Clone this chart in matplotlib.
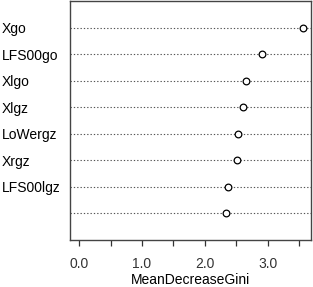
import matplotlib
matplotlib.use("Agg")
import matplotlib.pyplot as plt

plt.rcParams['font.family'] = ['Liberation Sans', 'DejaVu Sans']

labels = ["Xgo", "LFS00go", "Xlgo", "Xlgz", "LoWergz", "Xrgz", "LFS00lgz", ""]
values = [3.56, 2.91, 2.65, 2.60, 2.53, 2.51, 2.37, 2.33]
xticks = [0.0, 0.5, 1.0, 1.5, 2.0, 2.5, 3.0, 3.5]
xticklabels = ["0.0", "", "1.0", "", "2.0", "", "3.0", ""]

fig = plt.figure(figsize=(3.13, 2.87), dpi=100)
ax = fig.add_axes([70/313, 47/287, 241/313, 239/287])

n = len(values)
ypos = list(range(n, 0, -1))
for y in ypos:
    ax.axhline(y, color="#555555", lw=0.8, ls=(0, (1.2, 1.8)), zorder=1)
ax.plot(values, ypos, ls="none", marker="o", ms=4.8, mfc="white", mec="black", mew=0.9, zorder=3)

ax.set_xlim(-0.143, 3.683)
ax.set_ylim(-0.02, 9.02)
ax.set_xticks(xticks)
ax.set_xticklabels(xticklabels, fontsize=10)
ax.tick_params(axis="x", direction="out", length=4, width=0.9, pad=8, colors="#333333")
ax.set_yticks(ypos)
ax.set_yticklabels(labels, fontsize=10, ha="left")
ax.tick_params(axis="y", length=0, pad=49)
ax.set_xlabel("MeanDecreaseGini", fontsize=10, labelpad=2)
for s in ax.spines.values():
    s.set_color("#444444")
    s.set_linewidth(1.0)

fig.savefig("out.png", dpi=100)
